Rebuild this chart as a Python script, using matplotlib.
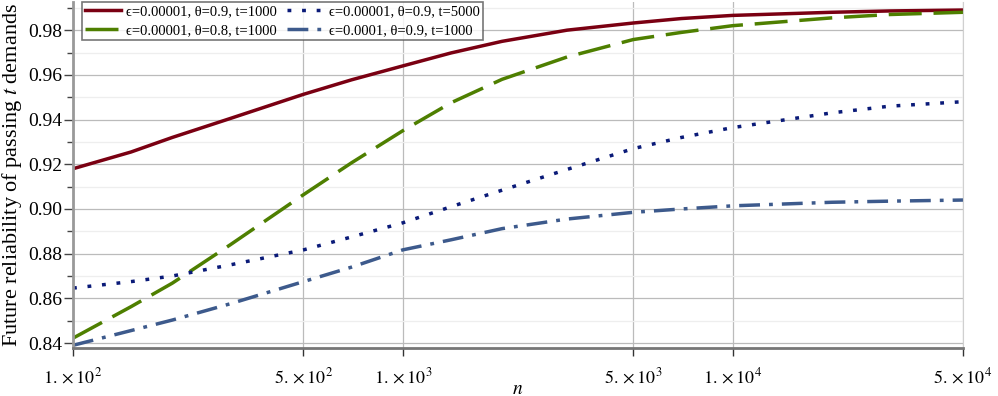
import numpy as np
import matplotlib
matplotlib.use("Agg")
import matplotlib.pyplot as plt
from matplotlib.ticker import FixedLocator, MultipleLocator

plt.rcParams["font.family"] = ["Liberation Serif", "DejaVu Serif"]
plt.rcParams["mathtext.fontset"] = "stix"

n_vals = [100, 150, 200, 300, 500, 700, 1000, 1400, 2000, 3150, 5000, 7000, 10000, 20000, 30000, 50000]

rel_e5_t09_t1000 = [0.918, 0.9255, 0.932, 0.9405, 0.9513, 0.9578, 0.9640, 0.9698, 0.975, 0.980,
                    0.9832, 0.9852, 0.9866, 0.988, 0.9886, 0.989]
rel_e5_t08_t1000 = [0.8422, 0.8563, 0.8668, 0.884, 0.9064, 0.9207, 0.9350, 0.9475, 0.958, 0.968,
                    0.9758, 0.979, 0.982, 0.9855, 0.987, 0.988]
rel_e5_t09_t5000 = [0.8646, 0.8675, 0.870, 0.875, 0.8817, 0.8875, 0.8938, 0.901, 0.9084, 0.9177,
                    0.927, 0.932, 0.9364, 0.943, 0.946, 0.948]
rel_e4_t09_t1000 = [0.839, 0.8456, 0.8503, 0.8576, 0.8675, 0.874, 0.8817, 0.8862, 0.8912, 0.8955,
                    0.8985, 0.900, 0.9014, 0.903, 0.9035, 0.904]

labels = ["\u03f5=0.00001, \u03b8=0.9, t=1000",
          "\u03f5=0.00001, \u03b8=0.8, t=1000",
          "\u03f5=0.00001, \u03b8=0.9, t=5000",
          "\u03f5=0.0001, \u03b8=0.9, t=1000"]

xtick_vals = [100, 500, 1000, 5000, 10000, 50000]
xtick_labels = [r"$1.\times10^{2}$", r"$5.\times10^{2}$", r"$1.\times10^{3}$",
                r"$5.\times10^{3}$", r"$1.\times10^{4}$", r"$5.\times10^{4}$"]

fig = plt.figure(figsize=(9.98, 3.96), dpi=100)
ax = fig.add_axes([73 / 998, 48 / 396, 890 / 998, 346 / 396])

lw = 2.5
ax.plot(n_vals, rel_e5_t09_t1000, color="#7a0012", linewidth=lw, label=labels[0])
ax.plot(n_vals, rel_e5_t08_t1000, color="#4e7f00", linewidth=lw, dashes=(9.5, 3.4), label=labels[1])
ax.plot(n_vals, rel_e5_t09_t5000, color="#0a1a78", linewidth=lw, dashes=(1.1, 3.1), label=labels[2])
ax.plot(n_vals, rel_e4_t09_t1000, color="#3d5a8c", linewidth=lw, dashes=(6, 2.6, 1.1, 2.6), label=labels[3])

ax.set_xscale("log")
ax.set_xlim(100, 50000)
ax.set_ylim(0.8378, 0.9926)

ax.xaxis.set_major_locator(FixedLocator(xtick_vals))
ax.xaxis.set_minor_locator(FixedLocator([]))
ax.set_xticks(xtick_vals)
ax.set_xticklabels(xtick_labels, fontsize=13)
ax.yaxis.set_major_locator(MultipleLocator(0.02))
ax.yaxis.set_minor_locator(MultipleLocator(0.01))
ax.yaxis.set_major_formatter(plt.FuncFormatter(lambda v, p: f"{v:.2f}"))

ax.tick_params(axis="x", which="major", direction="out", length=5.5, width=1, color="#333333", pad=8)
ax.tick_params(axis="y", which="major", direction="out", length=6.5, width=1, color="#444444", labelsize=14, pad=1)
ax.tick_params(axis="y", which="minor", direction="out", length=4, width=1, color="#444444")

ax.grid(True, which="major", axis="both", color="#bbbbbb", linewidth=0.9)
ax.grid(True, which="minor", axis="y", color="#eeeeee", linewidth=0.9)
ax.set_axisbelow(True)

ax.spines["top"].set_visible(False)
ax.spines["right"].set_color("#d0d0d0")
ax.spines["left"].set_color("#999999")
ax.spines["left"].set_linewidth(2)
ax.spines["bottom"].set_color("#777777")
ax.spines["bottom"].set_linewidth(2)

ax.set_xlabel("$n$", fontsize=14)
ax.xaxis.set_label_coords(0.5, -0.095)
ax.set_ylabel("Future reliability of passing $t$ demands", fontsize=16, labelpad=3)

leg = ax.legend(loc="upper left", bbox_to_anchor=(0.01, 1.0), ncol=2, fontsize=10.5,
                frameon=True, fancybox=False, edgecolor="#555555", borderpad=0.2,
                handlelength=2.5, handletextpad=0.35, columnspacing=0.7, labelspacing=0.4,
                borderaxespad=0)
leg.get_frame().set_linewidth(1.2)

fig.savefig("out.png", dpi=100)
